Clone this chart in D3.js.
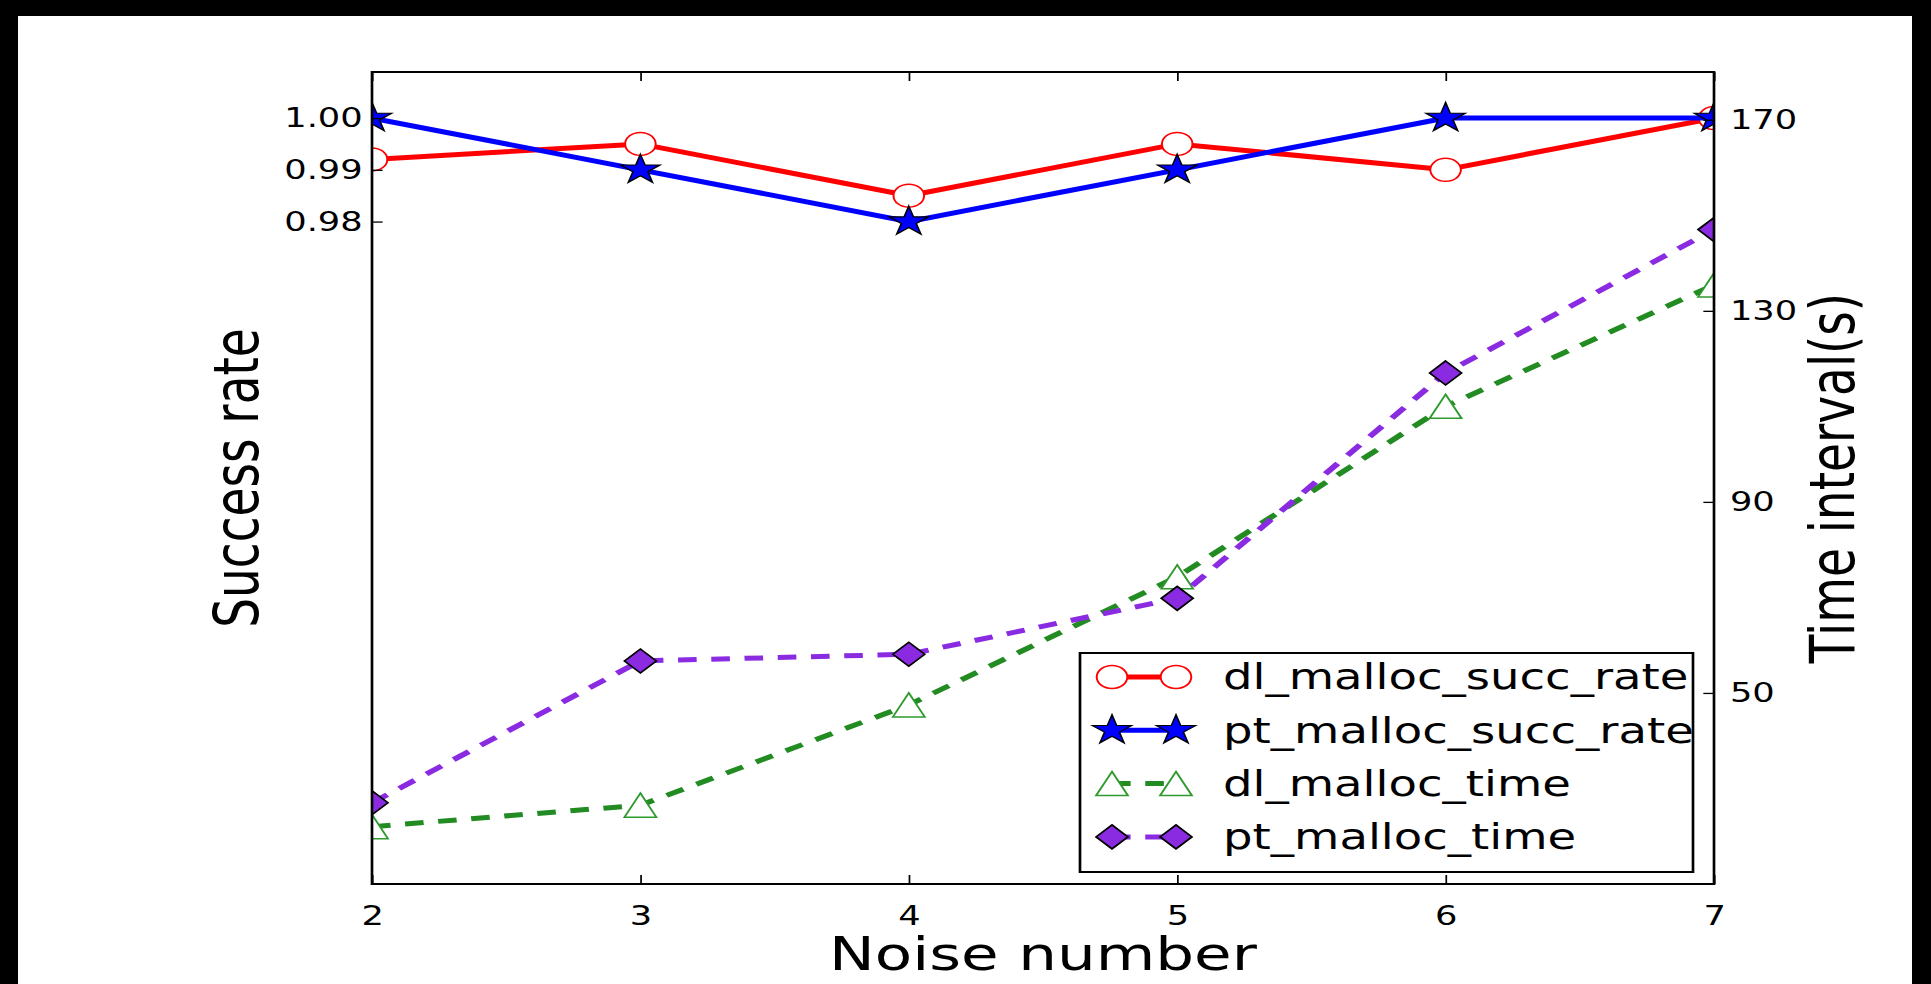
<!DOCTYPE html>
<head>
  <meta charset="utf-8">
  <title>Success rate and time interval</title>
  <script src="https://d3js.org/d3.v7.min.js"></script>
  <style>
    body { margin:0; background:#000; }
    svg { display:block; }
  </style>
</head>

<body>
  <svg width="1931" height="984"></svg>
  <script>
    var noise = [2, 3, 4, 5, 6, 7];
    var dlSuccRate = [0.992, 0.995, 0.985, 0.995, 0.990, 1.000];
    var ptSuccRate = [1.00, 0.99, 0.98, 0.99, 1.00, 1.00];
    var dlTime = [22, 26.5, 47.5, 74.3, 110, 135.4];
    var ptTime = [27, 56.7, 58.1, 69.8, 117, 147];
    var leftTicks = [0.98, 0.99, 1.00];
    var rightTicks = [50, 90, 130, 170];
    var names = ['dl_malloc_succ_rate', 'pt_malloc_succ_rate', 'dl_malloc_time', 'pt_malloc_time'];

    // the original image is stretched sideways, so draw narrow and scale x
    var sx = 1.33;
    var font = '"DejaVu Sans", sans-serif';
    var box = { left: 372 / sx, right: 1714 / sx, top: 72, bottom: 884 };

    var svg = d3.select('svg');
    svg.append('rect')
      .attr('x', 18).attr('y', 16)
      .attr('width', 1894).attr('height', 968)
      .attr('fill', '#fff');

    var g = svg.append('g').attr('transform', 'scale(' + sx + ',1)');

    var x = d3.scaleLinear().domain([2, 7]).range([box.left, box.right]);
    var yL = d3.scaleLinear().domain([0.852, 1.0089]).range([box.bottom, box.top]);
    var yR = d3.scaleLinear().domain([10, 180]).range([box.bottom, box.top]);

    function starPath(R) {
      var pts = [];
      for (var i = 0; i < 10; i++) {
        var a = -Math.PI / 2 + i * Math.PI / 5;
        var r = i % 2 ? R * 0.382 : R;
        pts.push([r * Math.cos(a), r * Math.sin(a)]);
      }
      return 'M' + pts.join('L') + 'Z';
    }
    var markers = {
      circle: d3.arc()({ innerRadius: 0, outerRadius: 11.5, startAngle: 0, endAngle: 2 * Math.PI }),
      star: starPath(15.5),
      triangle: 'M0,-12L12,12L-12,12Z',
      diamond: 'M0,-12L12,0L0,12L-12,0Z'
    };

    var series = [
      { name: names[0], values: dlSuccRate, y: yL, color: '#ff0000', dash: null, marker: 'circle', fill: '#fff', edge: '#ff0000', ew: 1.5 },
      { name: names[1], values: ptSuccRate, y: yL, color: '#0000ff', dash: null, marker: 'star', fill: '#0000ff', edge: '#000', ew: 1.2 },
      { name: names[2], values: dlTime, y: yR, color: '#228b22', dash: '14,11', marker: 'triangle', fill: '#fff', edge: '#2e9a2e', ew: 1.5 },
      { name: names[3], values: ptTime, y: yR, color: '#8a2be2', dash: '14,11', marker: 'diamond', fill: '#8a2be2', edge: '#000', ew: 1.5 }
    ];

    g.append('clipPath').attr('id', 'plotclip')
      .append('rect')
      .attr('x', box.left).attr('y', box.top)
      .attr('width', box.right - box.left).attr('height', box.bottom - box.top);

    var plot = g.append('g').attr('clip-path', 'url(#plotclip)');

    series.forEach(function(s) {
      var line = d3.line()
        .x(function(d, i) { return x(noise[i]); })
        .y(function(d) { return s.y(d); });
      plot.append('path')
        .attr('d', line(s.values))
        .attr('fill', 'none')
        .attr('stroke', s.color)
        .attr('stroke-width', 5)
        .attr('stroke-dasharray', s.dash);
      plot.selectAll(null)
        .data(s.values)
        .enter().append('path')
        .attr('transform', function(d, i) { return 'translate(' + x(noise[i]) + ',' + s.y(d) + ')'; })
        .attr('d', markers[s.marker])
        .attr('fill', s.fill)
        .attr('stroke', s.edge)
        .attr('stroke-width', s.ew);
    });

    // axes, ticks point inward
    function styleAxis(sel) {
      sel.attr('font-size', 26.5).attr('font-family', font);
      sel.select('.domain').remove();
      sel.selectAll('.tick line').attr('stroke', '#000').attr('stroke-width', 1.3);
      sel.selectAll('.tick text').attr('fill', '#000');
    }

    g.append('g')
      .attr('transform', 'translate(0,' + box.bottom + ')')
      .call(d3.axisBottom(x).tickValues(noise).tickFormat(d3.format('d'))
        .tickSize(-9).tickSizeOuter(0).tickPadding(22))
      .call(styleAxis);

    g.append('g')
      .attr('transform', 'translate(0,' + box.top + ')')
      .call(d3.axisTop(x).tickValues(noise).tickFormat('')
        .tickSize(-9).tickSizeOuter(0))
      .call(styleAxis);

    g.append('g')
      .attr('transform', 'translate(' + box.left + ',0)')
      .call(d3.axisLeft(yL).tickValues(leftTicks).tickFormat(d3.format('.2f'))
        .tickSize(-8).tickSizeOuter(0).tickPadding(7))
      .call(styleAxis);

    g.append('g')
      .attr('transform', 'translate(' + box.right + ',0)')
      .call(d3.axisRight(yR).tickValues(rightTicks).tickFormat(d3.format('d'))
        .tickSize(-8).tickSizeOuter(0).tickPadding(12))
      .call(styleAxis);

    g.append('rect')
      .attr('x', box.left).attr('y', box.top)
      .attr('width', box.right - box.left).attr('height', box.bottom - box.top)
      .attr('fill', 'none')
      .attr('stroke', '#000')
      .attr('stroke-width', 2);

    // axis titles
    g.append('text')
      .attr('x', (box.left + box.right) / 2).attr('y', 970)
      .attr('text-anchor', 'middle')
      .attr('font-family', font).attr('font-size', 46)
      .text('Noise number');

    g.append('text')
      .attr('transform', 'translate(' + (258 / sx) + ',' + ((box.top + box.bottom) / 2) + ') rotate(-90)')
      .attr('text-anchor', 'middle')
      .attr('font-family', font).attr('font-size', 47)
      .text('Success rate');

    g.append('text')
      .attr('transform', 'translate(' + (1854 / sx) + ',' + ((box.top + box.bottom) / 2) + ') rotate(-90)')
      .attr('text-anchor', 'middle')
      .attr('font-family', font).attr('font-size', 47)
      .text('Time interval(s)');

    // legend
    var leg = g.append('g').attr('transform', 'translate(' + (1080 / sx) + ',653)');
    leg.append('rect')
      .attr('width', (1693 - 1080) / sx).attr('height', 219)
      .attr('fill', '#fff')
      .attr('stroke', '#000')
      .attr('stroke-width', 2);

    var rows = leg.selectAll('g.row')
      .data(series)
      .enter().append('g')
      .attr('class', 'row')
      .attr('transform', function(d, i) { return 'translate(0,' + (24 + i * 53.3) + ')'; });

    var m1 = (1112 - 1080) / sx, m2 = (1176 - 1080) / sx;
    rows.append('line')
      .attr('x1', m1).attr('x2', m2)
      .attr('stroke', function(d) { return d.color; })
      .attr('stroke-width', 5)
      .attr('stroke-dasharray', function(d) { return d.dash; });
    rows.selectAll('path')
      .data(function(d) { return [[d, m1], [d, m2]]; })
      .enter().append('path')
      .attr('transform', function(p) { return 'translate(' + p[1] + ',0)'; })
      .attr('d', function(p) { return markers[p[0].marker]; })
      .attr('fill', function(p) { return p[0].fill; })
      .attr('stroke', function(p) { return p[0].edge; })
      .attr('stroke-width', function(p) { return p[0].ew; });
    rows.append('text')
      .attr('x', (1223 - 1080) / sx)
      .attr('dy', '0.35em')
      .attr('font-family', font).attr('font-size', 35)
      .text(function(d) { return d.name; });
  </script>
</body>
